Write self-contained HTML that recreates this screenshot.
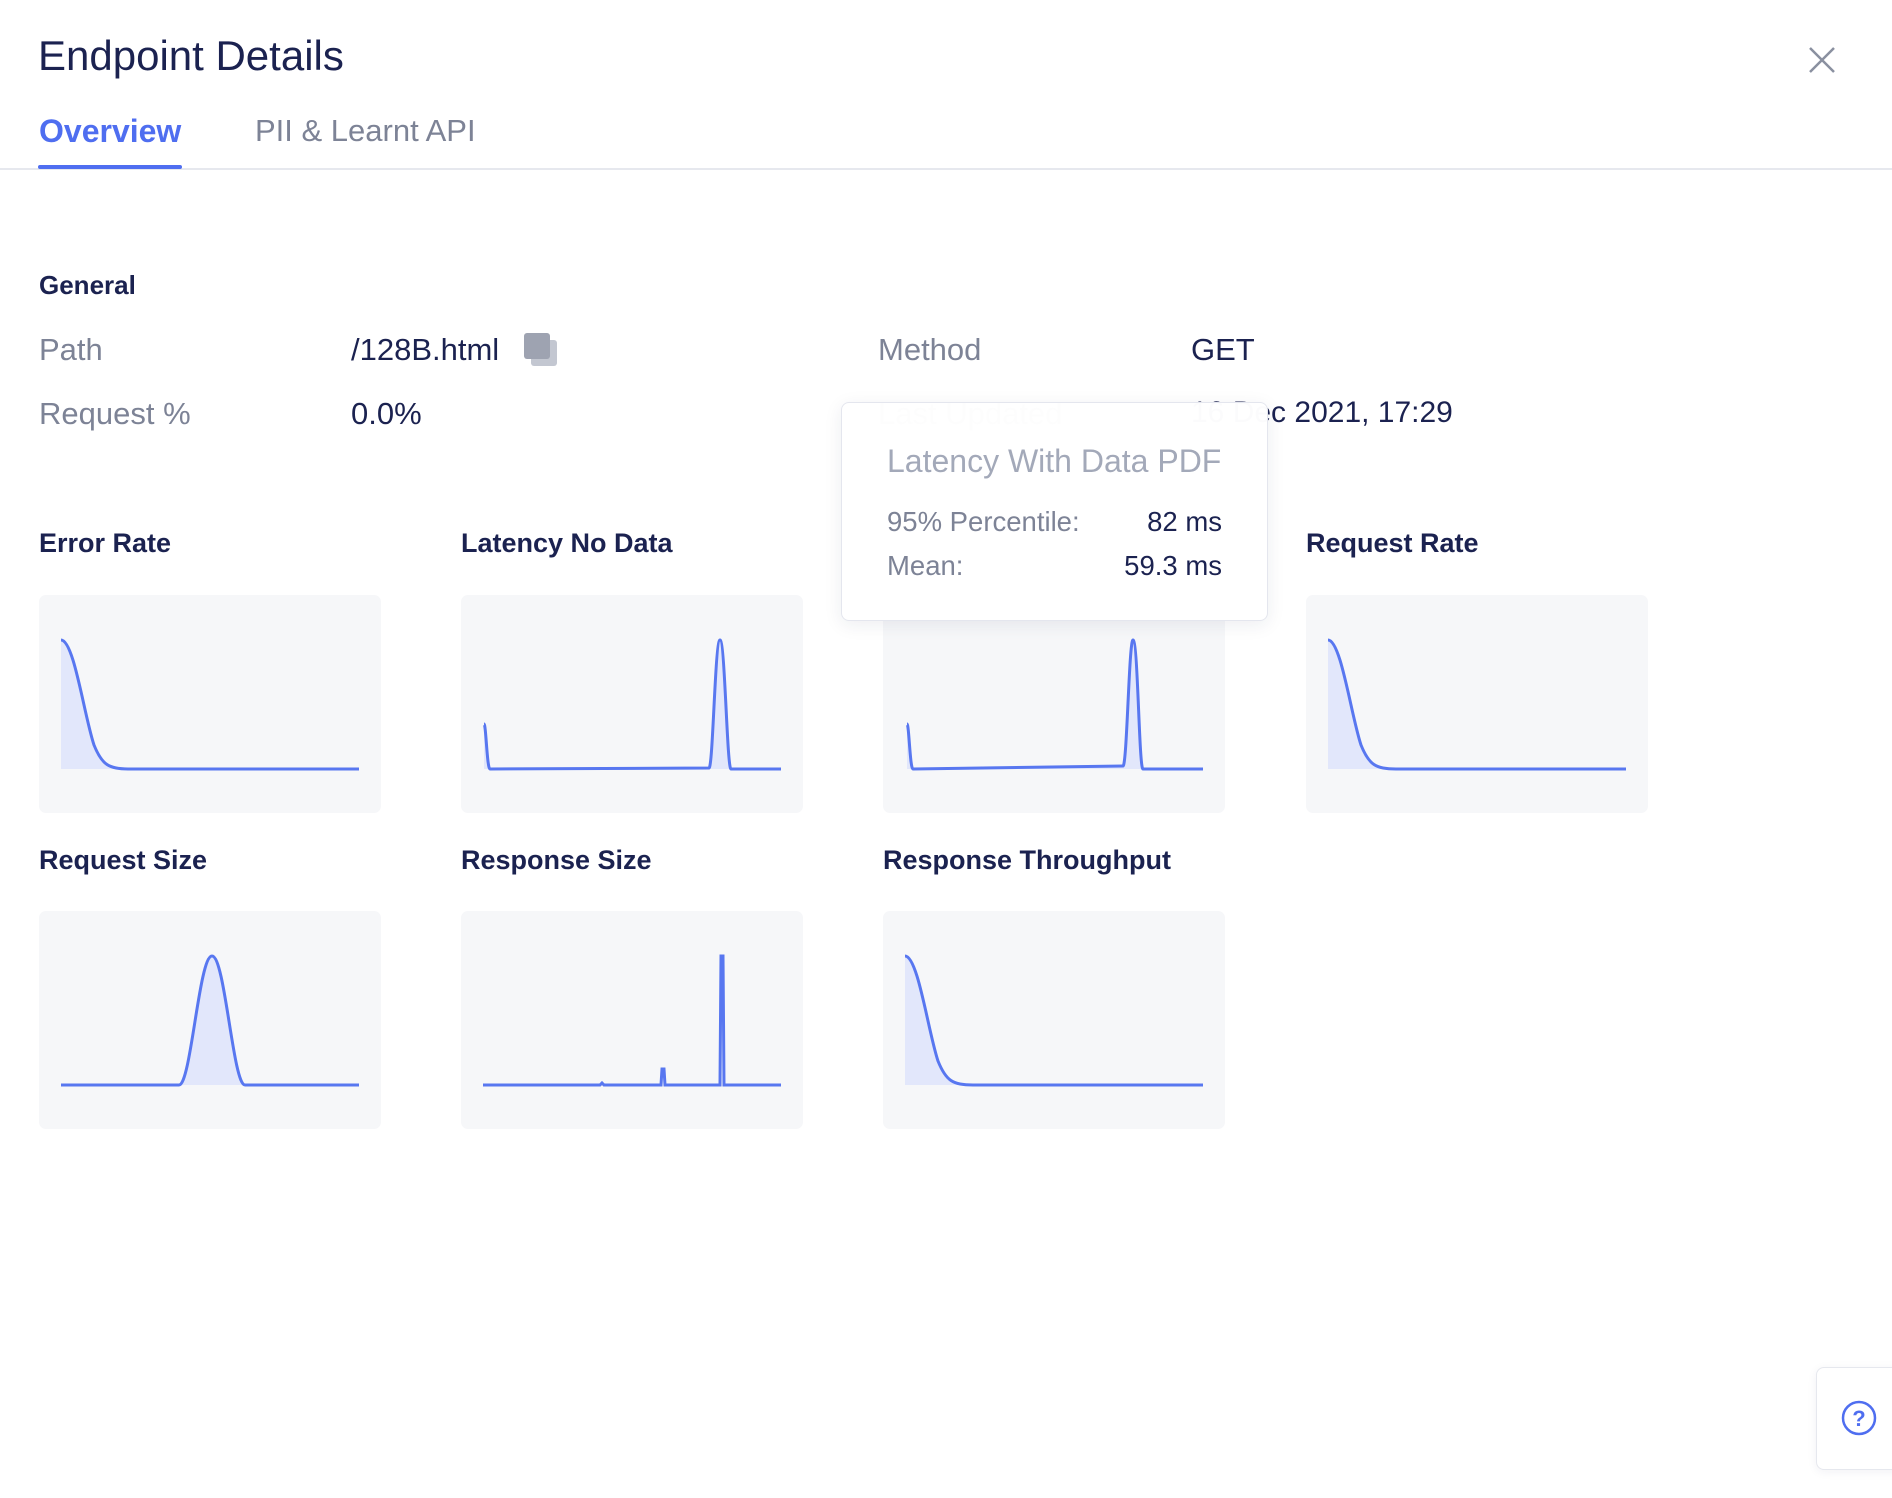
<!DOCTYPE html>
<html><head><meta charset="utf-8"><style>
*{margin:0;padding:0;box-sizing:border-box}
body{width:1892px;height:1498px;background:#fff;font-family:"Liberation Sans",sans-serif;position:relative;overflow:hidden;color:#1b2250}
.a{position:absolute;white-space:nowrap}
.lbl{color:#7d8396;font-size:31px}
.val{color:#1b2250;font-size:31px}
.h{font-weight:bold;font-size:27px;color:#1b2250}
.box{position:absolute;width:342px;height:218px;background:#f6f7f9;border-radius:7px}
.box svg{position:absolute;left:0;top:0}
</style></head><body>
<div class="a" style="left:38px;top:32px;font-size:42px;color:#1b2250">Endpoint Details</div>
<div class="a" style="left:1806px;top:44px;width:32px;height:32px">
<svg width="32" height="32"><path d="M4 4L28 28M28 4L4 28" stroke="#8a90a0" stroke-width="2.5"/></svg></div>
<div class="a" style="left:39px;top:113px;font-size:32px;font-weight:bold;color:#4f6ef0">Overview</div>
<div class="a" style="left:255px;top:113px;font-size:31px;color:#7d8396">PII &amp; Learnt API</div>
<div class="a" style="left:0;top:168px;width:1892px;height:2px;background:#e6e8ee"></div>
<div class="a" style="left:38px;top:165px;width:144px;height:4px;background:#4f6ef0;border-radius:2px"></div>

<div class="a h" style="left:39px;top:270px;font-size:26px">General</div>
<div class="a lbl" style="left:39px;top:332px">Path</div>
<div class="a val" style="left:351px;top:332px">/128B.html</div>
<div class="a" style="left:522px;top:332px;width:38px;height:36px">
<svg width="38" height="36"><rect x="9" y="8" width="26" height="26" rx="3" fill="#c3c7d1"/><rect x="2" y="1" width="26" height="26" rx="3" fill="#9ea3b1"/></svg></div>
<div class="a lbl" style="left:878px;top:332px">Method</div>
<div class="a val" style="left:1191px;top:332px">GET</div>
<div class="a lbl" style="left:39px;top:396px">Request %</div>
<div class="a val" style="left:351px;top:396px">0.0%</div>
<div class="a lbl" style="left:878px;top:396px">Last Updated</div>
<div class="a val" style="left:1191px;top:396px;font-size:30px">16 Dec 2021, 17:29</div>

<div class="a h" style="left:39px;top:528px">Error Rate</div>
<div class="a h" style="left:461px;top:528px">Latency No Data</div>
<div class="a h" style="left:1306px;top:528px">Request Rate</div>
<div class="a h" style="left:39px;top:845px">Request Size</div>
<div class="a h" style="left:461px;top:845px">Response Size</div>
<div class="a h" style="left:883px;top:845px">Response Throughput</div>

<div class="box" style="left:39px;top:595px"><svg width="342" height="218">
<path d="M22,45 C35,45 45,120 55,150 C63,170 70,174 90,174 L320,174 L22,174Z" fill="#e2e7fb"/>
<path d="M22,45 C35,45 45,120 55,150 C63,170 70,174 90,174 L320,174" fill="none" stroke="#5877f0" stroke-width="3"/></svg></div>
<div class="box" style="left:461px;top:595px"><svg width="342" height="218">
<path d="M23,129 C25,129 26,174 29,174 L248,173 C252,173 254,45 259,45 C264,45 266,174 270,174 L320,174 L23,174Z" fill="#e2e7fb"/>
<path d="M23,129 C25,129 26,174 29,174 L248,173 C252,173 254,45 259,45 C264,45 266,174 270,174 L320,174" fill="none" stroke="#5877f0" stroke-width="3"/></svg></div>
<div class="box" style="left:883px;top:595px"><svg width="342" height="218">
<path d="M24,129 C26,129 27,174 30,174 L240,171 C244,171 246,45 250,45 C255,45 256,174 260,174 L320,174 L24,174Z" fill="#e2e7fb"/>
<path d="M24,129 C26,129 27,174 30,174 L240,171 C244,171 246,45 250,45 C255,45 256,174 260,174 L320,174" fill="none" stroke="#5877f0" stroke-width="3"/></svg></div>
<div class="box" style="left:1306px;top:595px"><svg width="342" height="218">
<path d="M22,45 C35,45 45,120 55,150 C63,170 70,174 90,174 L320,174 L22,174Z" fill="#e2e7fb"/>
<path d="M22,45 C35,45 45,120 55,150 C63,170 70,174 90,174 L320,174" fill="none" stroke="#5877f0" stroke-width="3"/></svg></div>

<div class="box" style="left:39px;top:911px"><svg width="342" height="218">
<path d="M22,174 L140,174 C152,174 160,45 173,45 C186,45 194,174 206,174 L320,174Z" fill="#e2e7fb"/>
<path d="M22,174 L140,174 C152,174 160,45 173,45 C186,45 194,174 206,174 L320,174" fill="none" stroke="#5877f0" stroke-width="3"/></svg></div>
<div class="box" style="left:461px;top:911px"><svg width="342" height="218">
<path d="M22,174 L139,174 L141,172 L143,174 L200,174 L201,158 L203,158 L204,174 L259,174 L260,45 L262,45 L263,174 L320,174" fill="none" stroke="#5877f0" stroke-width="3"/></svg></div>
<div class="box" style="left:883px;top:911px"><svg width="342" height="218">
<path d="M22,45 C35,45 45,120 55,150 C63,170 70,174 90,174 L320,174 L22,174Z" fill="#e2e7fb"/>
<path d="M22,45 C35,45 45,120 55,150 C63,170 70,174 90,174 L320,174" fill="none" stroke="#5877f0" stroke-width="3"/></svg></div>

<div class="a" style="left:841px;top:402px;width:427px;height:219px;background:rgba(255,255,255,0.985);border:1px solid #e4e6ee;border-radius:8px;box-shadow:0 4px 18px rgba(30,40,80,0.08)">
<div class="a" style="left:45px;top:40px;font-size:32px;color:#a3a9b9">Latency With Data PDF</div>
<div class="a" style="left:45px;top:103px;font-size:27.5px;color:#7d8396">95% Percentile:</div>
<div class="a" style="right:45px;top:103px;font-size:27.5px;color:#1b2250">82 ms</div>
<div class="a" style="left:45px;top:147px;font-size:27.5px;color:#7d8396">Mean:</div>
<div class="a" style="right:45px;top:147px;font-size:27.5px;color:#1b2250">59.3 ms</div>
</div>

<div class="a" style="left:1816px;top:1367px;width:90px;height:103px;background:#fff;border:1px solid #e6e8ee;border-radius:8px 0 0 8px;box-shadow:0 2px 10px rgba(30,40,80,0.06)">
<svg width="90" height="103" style="position:absolute;left:0;top:0"><circle cx="42" cy="50" r="16" fill="none" stroke="#4f6ef0" stroke-width="2.5"/>
<text x="42" y="58" text-anchor="middle" font-family="Liberation Sans" font-size="22" font-weight="bold" fill="#4f6ef0">?</text></svg></div>
</body></html>
